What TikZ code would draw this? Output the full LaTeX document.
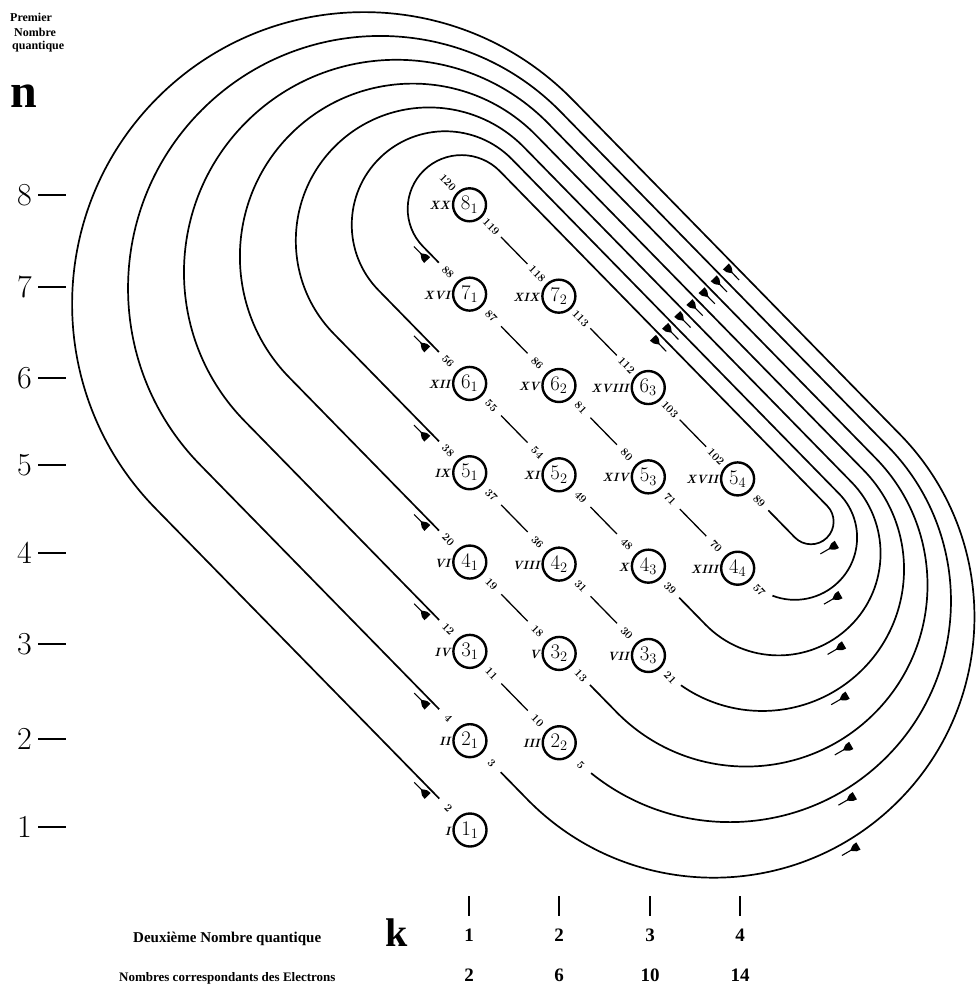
\documentclass[tikz,border=0pt]{standalone}
\usepackage{fontspec}
\newfontfamily\tms{Liberation Serif}
\usetikzlibrary{calc}
\tikzset{
  flowmark/.pic={\fill (-11,-4.2) .. controls (-7,-4.2) .. (-1.5,0)
                          .. controls (-7,4.2) .. (-11,4.2) -- cycle;
                 \draw[line width=1.1pt] (-3,0) -- (8,0);},
  circ/.style={circle,draw,line width=2.4pt,minimum size=33pt,inner sep=0pt,font=\fontsize{21}{21}\selectfont},
  rom/.style={font=\fontsize{12}{12}\selectfont\bfseries\itshape,inner sep=0pt,anchor=east},
  num/.style={font=\fontsize{11}{11}\selectfont\bfseries,inner sep=0pt,rotate=-45.6},
  orbit/.style={line width=1.7pt},
  link/.style={line width=1.3pt},
  axdig/.style={font=\fontsize{32}{32}\selectfont,anchor=east,inner sep=0pt},
  axtick/.style={line width=1.7pt},
  capword/.style={font=\tms\bfseries\fontsize{12}{12}\selectfont,anchor=base west,inner sep=0pt},
  bigletter/.style={font=\tms\bfseries\fontsize{48}{48}\selectfont,anchor=base west,inner sep=0pt},
  bottomnum/.style={font=\tms\bfseries\fontsize{19}{19}\selectfont,inner sep=0pt},
}
\begin{document}
\begin{tikzpicture}[x=1pt,y=1pt]
\useasboundingbox (0,0) rectangle (979,-987);

% ---------- left axis ----------
\node[capword] (p1) at (10,-22) {Premier};
\node[capword] (p2) at (14,-36.5) {Nombre};
\node[capword] (p3) at (12,-50) {quantique};
\node[bigletter] (nlab) at (10,-108) {n};
\foreach \d/\yy in {8/195,7/287,6/378,5/465,4/553,3/644,2/739,1/827}{
  \node[axdig] (ax\d) at (32,-\yy) {\d};
  \draw[axtick] (38,-\yy) -- (66,-\yy);
}

% ---------- bottom axis ----------
\node[font=\tms\bfseries\fontsize{15}{15}\selectfont,anchor=base west,inner sep=0pt] (dn) at (133,-942) {Deuxième Nombre quantique};
\node[font=\tms\bfseries\fontsize{13}{13}\selectfont,anchor=base west,inner sep=0pt] (nc) at (119,-981) {Nombres correspondants des Electrons};
\node[font=\tms\bfseries\fontsize{40}{40}\selectfont,anchor=base west,inner sep=0pt] (klab) at (385,-946) {k};
\foreach \xx/\kv/\ev in {469/1/2, 559/2/6, 650/3/10, 740/4/14}{
  \draw[line width=1.9pt] (\xx,-896) -- (\xx,-916);
  \node[bottomnum] (kv\kv) at (\xx,-935) {\kv};
  \node[bottomnum] (ev\kv) at (\xx,-975) {\ev};
}

% ---------- diagram in the diagonal frame ----------
\begin{scope}[shift={(470pt,-830pt)},x={(0.6992pt,-0.7149pt)},y={(0.7149pt,0.6992pt)}]
  % loops ending on a circle of the column u=-63.9
  \foreach \lp in {1,3,5,7}{
    \pgfmathsetmacro\Su{-63.9*(\lp-1)-44}
    \pgfmathsetmacro\Sv{62.4*(\lp-1)}
    \pgfmathsetmacro\Ev{62.4*\lp}
    \pgfmathsetmacro\Tv{584-17*(\lp-1)}
    \pgfmathsetmacro\rA{(\Tv-\Sv)/2}
    \pgfmathsetmacro\rB{(\Tv-\Ev)/2}
    \draw[orbit] (\Su,\Sv) -- (-450,\Sv) arc[start angle=270,end angle=90,radius=\rA]
      -- (18,\Tv) arc[start angle=90,end angle=-90,radius=\rB] -- (-19.9,\Ev);
    \pgfmathsetmacro\Pu{18+(\rB+10)*cos(-14.4)}
    \pgfmathsetmacro\Pv{(\Tv+\Ev)/2+(\rB+10)*sin(-14.4)}
    \pic[rotate=180] at ({-63.9*(\lp-1)-65},{\Sv-6.5}) {flowmark};
    \pic at (-213,{\Tv-7}) {flowmark};
    \pic[rotate=-104.4] at (\Pu,\Pv) {flowmark};
  }
  % loops ending on a circle of the column u=0
  \foreach \lp in {2,4,6}{
    \pgfmathsetmacro\Su{-63.9*(\lp-1)-44}
    \pgfmathsetmacro\Sv{62.4*(\lp-1)}
    \pgfmathsetmacro\Ev{62.4*\lp}
    \pgfmathsetmacro\Tv{584-17*(\lp-1)}
    \pgfmathsetmacro\rA{(\Tv-\Sv)/2}
    \pgfmathsetmacro\rB{(\Tv-\Ev)/2}
    \pgfmathsetmacro\Ea{-acos(26/\rB)}
    \draw[orbit] (\Su,\Sv) -- (-450,\Sv) arc[start angle=270,end angle=90,radius=\rA]
      -- (18,\Tv) arc[start angle=90,end angle=\Ea,radius=\rB];
    \pgfmathsetmacro\Pu{18+(\rB+10)*cos(-14.4)}
    \pgfmathsetmacro\Pv{(\Tv+\Ev)/2+(\rB+10)*sin(-14.4)}
    \pic[rotate=180] at ({-63.9*(\lp-1)-65},{\Sv-6.5}) {flowmark};
    \pic at (-213,{\Tv-7}) {flowmark};
    \pic[rotate=-104.4] at (\Pu,\Pv) {flowmark};
  }
  % circles
  \foreach \nn/\kk/\rom/\labA/\labB in {
     1/1/I/2/{}, 2/1/II/4/3, 2/2/III/10/5, 3/1/IV/12/11, 3/2/V/18/13,
     4/1/VI/20/19, 3/3/VII/30/21, 4/2/VIII/36/31, 5/1/IX/38/37, 4/3/X/48/39,
     5/2/XI/54/49, 6/1/XII/56/55, 4/4/XIII/70/57, 5/3/XIV/80/71, 6/2/XV/86/81,
     7/1/XVI/88/87, 5/4/XVII/102/89, 6/3/XVIII/112/103, 7/2/XIX/118/113, 8/1/XX/120/119}{
    \pgfmathsetmacro\uu{63.9*(\kk-\nn)}
    \pgfmathsetmacro\vv{62.4*(\nn+\kk-2)}
    \node[circ,fill=white] (c\nn\kk) at (\uu,\vv) {$\nn_{\kk}$};
    \node[rom] (r\nn\kk) at ([xshift=-1.5pt,yshift=-1pt]c\nn\kk.west) {\rom};
    \node[num] (la\nn\kk) at (\uu-31,\vv) {\labA};
    \node[num] (lb\nn\kk) at (\uu+31,\vv) {\labB};
  }
  % diagonal connectors
  \foreach \a/\b in {31/22, 41/32, 51/42, 42/33, 61/52, 52/43, 71/62, 62/53, 53/44, 81/72, 72/63, 63/54}{
    \draw[link] ($(c\a)!45pt!(c\b)$) -- ($(c\b)!45pt!(c\a)$);
  }
\end{scope}
\end{tikzpicture}
\end{document}
